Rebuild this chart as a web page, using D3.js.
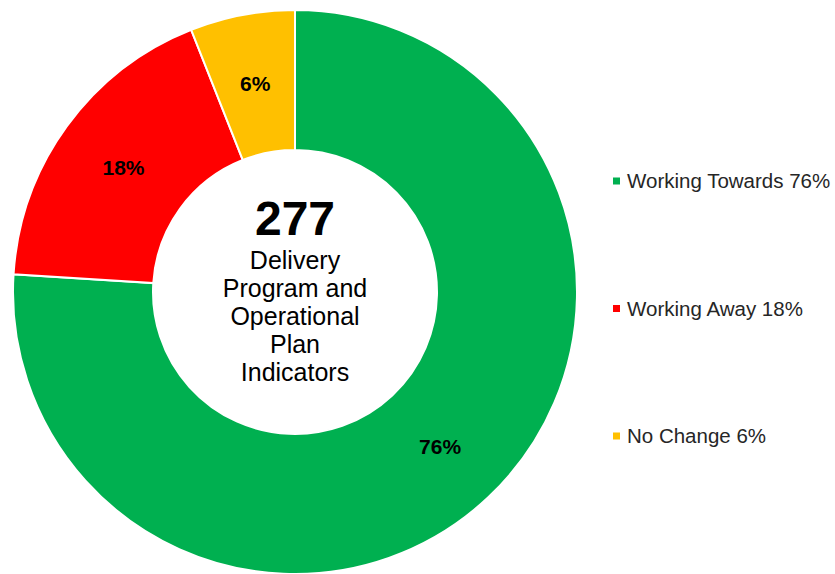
<!DOCTYPE html>
<html>
  <head>
    <meta charset="utf-8">
    <script src="https://d3js.org/d3.v7.min.js"></script>
    <style>
      body { margin: 0; background: #fff; }
      svg { display: block; font-family: "Liberation Sans", Arial, sans-serif; }
    </style>
  </head>
  <body>
    <svg id="chart" width="835" height="574"></svg>
    <script>
      // data
      var categories = ["Working Towards", "Working Away", "No Change"];
      var values = [76, 18, 6];
      var colors = ["#00B050", "#FF0000", "#FFC000"];
      var total = 277;
      var centerLines = ["Delivery", "Program and", "Operational", "Plan", "Indicators"];

      var svg = d3.select("#chart");
      var cx = 295, cy = 292,
          outerR = 282, innerR = 142;

      var data = categories.map(function(c, i) { return {name: c, value: values[i], color: colors[i]}; });

      var pie = d3.pie()
          .value(function(d) { return d.value; })
          .sort(null);

      var arc = d3.arc()
          .innerRadius(innerR)
          .outerRadius(outerR);

      var g = svg.append("g")
          .attr("transform", "translate(" + cx + "," + cy + ")");

      var slices = g.selectAll(".slice")
        .data(pie(data))
        .enter().append("g")
          .attr("class", "slice");

      slices.append("path")
          .attr("d", arc)
          .attr("fill", function(d) { return d.data.color; })
          .attr("stroke", "#fff")
          .attr("stroke-width", 2);

      slices.append("text")
          .attr("transform", function(d) { return "translate(" + arc.centroid(d) + ")"; })
          .attr("text-anchor", "middle")
          .attr("dy", "0.36em")
          .attr("font-size", "21px")
          .attr("font-weight", "bold")
          .attr("fill", "#000")
          .text(function(d) { return d.data.value + "%"; });

      // center label
      g.append("text")
          .attr("text-anchor", "middle")
          .attr("y", -57)
          .attr("font-size", "48px")
          .attr("font-weight", "bold")
          .attr("fill", "#000")
          .text(total);

      g.append("text")
          .attr("text-anchor", "middle")
          .attr("font-size", "25px")
          .attr("fill", "#000")
        .selectAll("tspan")
        .data(centerLines)
        .enter().append("tspan")
          .attr("x", 0)
          .attr("y", function(d, i) { return -23 + i * 28; })
          .text(function(d) { return d; });

      // legend
      var legendY = d3.scalePoint()
          .domain(categories)
          .range([181, 436]);

      var legend = svg.selectAll(".legend")
        .data(data)
        .enter().append("g")
          .attr("class", "legend")
          .attr("transform", function(d) { return "translate(613," + legendY(d.name) + ")"; });

      legend.append("rect")
          .attr("x", 0)
          .attr("y", -3.5)
          .attr("width", 7)
          .attr("height", 7)
          .attr("fill", function(d) { return d.color; });

      legend.append("text")
          .attr("x", 14)
          .attr("dy", "0.36em")
          .attr("font-size", "20.5px")
          .attr("fill", "#262626")
          .text(function(d) { return d.name + " " + d.value + "%"; });
    </script>
  </body>
</html>
